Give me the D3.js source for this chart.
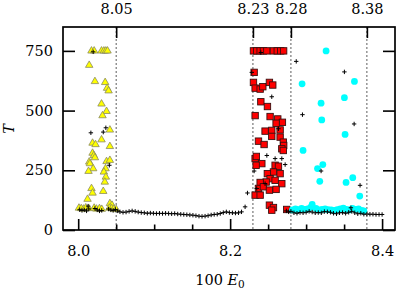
<!DOCTYPE html>
<html>
<head>
<meta charset="utf-8">
<script src="https://cdn.jsdelivr.net/npm/d3@7"></script>
<style>
  body { margin: 0; background: #fff; }
</style>
</head>
<body>
<svg id="svg1" width="399" height="289"></svg>
<script>
// yellow triangles (8.00 - 8.05)
var triE = [8.0175, 8.021, 8.0307, 8.0338, 8.0364, 8.0386, 8.0145, 8.022, 8.0355, 8.038, 8.040,
    8.0307, 8.0373, 8.032, 8.0417, 8.0307, 8.0417, 8.0189, 8.0228, 8.0189, 8.0206, 8.022,
    8.0145, 8.0154, 8.0197, 8.0136, 8.0373, 8.0417, 8.036, 8.0338, 8.0364, 8.035, 8.0175,
    8.0189, 8.033, 8.0123, 8.0417, 8.0445,
    8.001, 8.004, 8.007, 8.010, 8.014, 8.021, 8.024, 8.028, 8.031, 8.041, 8.044, 8.047, 8.050];
var triT = [750, 750, 750, 750, 750, 750, 690, 622, 618, 594, 583,
    528, 497, 479, 419, 378, 350, 364, 358, 322, 312, 303,
    285, 278, 257, 246, 287, 292, 257, 243, 222, 201, 174,
    155, 162, 129, 111, 104,
    92, 90, 88, 93, 90, 92, 88, 90, 87, 92, 90, 88, 86];

// red squares (8.23 - 8.28)
var sqE = [8.2307, 8.235, 8.2395, 8.2438, 8.2483, 8.257, 8.262, 8.2665, 8.2704,
    8.2316, 8.2307, 8.2329, 8.2395, 8.243, 8.2517, 8.2561, 8.2404, 8.2491, 8.2329, 8.2526,
    8.2627, 8.2688, 8.2605, 8.246, 8.2548, 8.2658, 8.2548, 8.2658, 8.2373, 8.2447, 8.270,
    8.2705, 8.268, 8.2700, 8.2329, 8.2345, 8.2417, 8.2342, 8.2592, 8.2636, 8.257, 8.2658,
    8.249, 8.2526, 8.2474, 8.2395, 8.2592, 8.268, 8.2373, 8.2438, 8.2517, 8.2605, 8.2329,
    8.2395, 8.2517, 8.257, 8.2548, 8.2745];
var sqT = [750, 750, 750, 750, 750, 750, 750, 750, 750,
    660, 618, 594, 590, 600, 618, 607, 537, 517, 479, 475,
    465, 451, 447, 414, 417, 419, 392, 389, 372, 358, 368,
    354, 340, 333, 299, 308, 278, 271, 271, 267, 243, 236,
    236, 215, 201, 199, 208, 194, 174, 181, 167, 170, 146,
    146, 104, 94, 83, 86];

// cyan circles (8.28 - 8.38)
var circE = [8.3263, 8.2947, 8.3636, 8.3197, 8.3504, 8.3206, 8.3513, 8.296, 8.322, 8.315,
    8.318, 8.3614, 8.3526, 8.3706, 8.308,
    8.282, 8.286, 8.290, 8.294, 8.298, 8.302, 8.306, 8.313, 8.317, 8.321, 8.325, 8.329,
    8.333, 8.337, 8.341, 8.345, 8.349, 8.353, 8.357, 8.361, 8.365, 8.369, 8.373, 8.376];
var circT = [750, 612, 622, 531, 554, 461, 400, 333, 274, 257,
    204, 219, 199, 142, 107,
    84, 88, 85, 90, 86, 88, 95, 90, 84, 86, 88, 85,
    84, 82, 85, 88, 92, 86, 84, 90, 86, 88, 82, 80];

// black crosses
var crossE = [8.0197, 8.0167, 8.033, 8.0364, 8.041, 8.013,
    8.002, 8.005, 8.008, 8.011, 8.014, 8.022, 8.025, 8.028, 8.031,
    8.040, 8.043, 8.046, 8.049, 8.052,
    8.055, 8.059, 8.063, 8.067, 8.071, 8.075, 8.079, 8.083, 8.087, 8.091, 8.095, 8.099,
    8.103, 8.107, 8.111, 8.115, 8.119, 8.123, 8.127, 8.131, 8.135, 8.139, 8.143, 8.147,
    8.151, 8.155, 8.159, 8.163, 8.167, 8.171, 8.175, 8.179, 8.183, 8.187, 8.191, 8.195,
    8.199, 8.203, 8.207, 8.211, 8.215, 8.2197,
    8.2404, 8.2285, 8.2548, 8.2636, 8.2483, 8.2592, 8.268, 8.2724, 8.2316, 8.2228,
    8.235, 8.246, 8.274, 8.277, 8.280,
    8.287, 8.3504, 8.2952, 8.3632, 8.3197, 8.371, 8.359,
    8.284, 8.288, 8.292, 8.296, 8.300, 8.304, 8.308, 8.312, 8.316, 8.320, 8.324, 8.328,
    8.332, 8.336, 8.340, 8.344, 8.348, 8.352, 8.356, 8.360, 8.364, 8.368, 8.372, 8.376,
    8.380, 8.384, 8.388, 8.392, 8.396, 8.400];
var crossT = [746, 407, 410, 428, 271, 100,
    85, 82, 84, 80, 88, 90, 84, 80, 82,
    88, 84, 82, 86, 80,
    76, 74, 75, 78, 80, 78, 75, 73, 72, 70, 71, 70,
    69, 70, 69, 70, 69, 68, 69, 67, 66, 65, 64, 63,
    62, 60, 58, 57, 58, 60, 63, 65, 66, 69, 73, 76,
    73, 72, 71, 72, 76, 97,
    743, 660, 558, 424, 312, 299, 299, 274, 247, 155,
    174, 194, 80, 76, 78,
    706, 662, 483, 444, 247, 187, 93,
    72, 70, 73, 72, 74, 78, 75, 72, 73, 72, 77, 76,
    74, 70, 68, 72, 73, 70, 74, 78, 72, 68, 70, 66,
    67, 66, 66, 65, 65, 65];

var bottomMajor = [8.0, 8.2, 8.4];
var bottomMinor = [8.05, 8.1, 8.15, 8.25, 8.3, 8.35];
var topTicks = [8.05, 8.23, 8.28, 8.38];
var yTicks = [0, 250, 500, 750];

var svg = d3.select("#svg1"),
    margin = { left: 63, right: 395, top: 27, bottom: 230 },
    serif = "'DejaVu Serif', 'Liberation Serif', serif";

var x = d3.scaleLinear().domain([7.98, 8.417]).range([margin.left, margin.right]);
var y = d3.scaleLinear().domain([0, 850]).range([margin.bottom, margin.top]);

// dashed separators
svg.append("g").selectAll("line")
    .data(topTicks)
    .enter().append("line")
    .attr("x1", function (d) { return x(d); })
    .attr("x2", function (d) { return x(d); })
    .attr("y1", margin.top)
    .attr("y2", margin.bottom)
    .attr("stroke", "#333")
    .attr("stroke-width", 0.8)
    .attr("stroke-dasharray", "2,2");

// yellow triangles
svg.append("g").selectAll("path")
    .data(triE)
    .enter().append("path")
    .attr("transform", function (d, i) { return "translate(" + x(d) + "," + y(triT[i]) + ")"; })
    .attr("d", d3.symbol().type(d3.symbolTriangle).size(24))
    .attr("fill", "#ffff00")
    .attr("stroke", "#8a8a60")
    .attr("stroke-width", 0.8);

// red squares
svg.append("g").selectAll("rect")
    .data(sqE)
    .enter().append("rect")
    .attr("x", function (d) { return x(d) - 3.2; })
    .attr("y", function (d, i) { return y(sqT[i]) - 3.2; })
    .attr("width", 6.4)
    .attr("height", 6.4)
    .attr("fill", "#ff0000")
    .attr("stroke", "#3a1010")
    .attr("stroke-width", 0.9);

// cyan circles
svg.append("g").selectAll("circle")
    .data(circE)
    .enter().append("circle")
    .attr("cx", function (d) { return x(d); })
    .attr("cy", function (d, i) { return y(circT[i]); })
    .attr("r", 3.4)
    .attr("fill", "#00ffff");

// black crosses
svg.append("g").selectAll("path")
    .data(crossE)
    .enter().append("path")
    .attr("transform", function (d, i) { return "translate(" + x(d) + "," + y(crossT[i]) + ")"; })
    .attr("d", "M-2.2,0H2.2M0,-2.2V2.2")
    .attr("stroke", "#000")
    .attr("stroke-width", 1);

// frame
svg.append("rect")
    .attr("x", margin.left).attr("y", margin.top)
    .attr("width", margin.right - margin.left).attr("height", margin.bottom - margin.top)
    .attr("fill", "none")
    .attr("stroke", "#000")
    .attr("stroke-width", 1.7);

function styleAxis(g) {
    g.select(".domain").remove();
    g.selectAll(".tick line").attr("stroke-width", 1.6);
}

svg.append("g")
    .attr("transform", "translate(0," + margin.bottom + ")")
    .call(d3.axisBottom(x).tickValues(bottomMajor).tickSizeInner(-11).tickSizeOuter(0)
        .tickPadding(16).tickFormat(d3.format(".1f")))
    .call(styleAxis);

svg.append("g")
    .attr("transform", "translate(0," + margin.bottom + ")")
    .call(d3.axisBottom(x).tickValues(bottomMinor).tickSizeInner(-5.5).tickSizeOuter(0).tickFormat(""))
    .call(styleAxis);

svg.append("g")
    .attr("transform", "translate(0," + margin.top + ")")
    .call(d3.axisTop(x).tickValues(topTicks).tickSizeInner(-11).tickSizeOuter(0)
        .tickPadding(13.5).tickFormat(d3.format(".2f")))
    .call(styleAxis);

svg.append("g")
    .attr("transform", "translate(" + margin.left + ",0)")
    .call(d3.axisLeft(y).tickValues(yTicks).tickSizeInner(-12).tickSizeOuter(0).tickPadding(10))
    .call(styleAxis);

svg.append("g")
    .attr("transform", "translate(" + margin.right + ",0)")
    .call(d3.axisRight(y).tickValues(yTicks).tickSizeInner(-12).tickSizeOuter(0).tickFormat(""))
    .call(styleAxis);

// axis titles
svg.append("text")
    .attr("x", 9)
    .attr("y", 129)
    .attr("transform", "rotate(-90,9,129)")
    .attr("text-anchor", "middle")
    .attr("dy", "0.35em")
    .style("font-style", "italic")
    .text("T");

var xl = svg.append("text")
    .attr("x", 220)
    .attr("y", 285)
    .attr("text-anchor", "middle");
xl.append("tspan").text("100 ");
xl.append("tspan").style("font-style", "italic").text("E");
xl.append("tspan").attr("dy", "2.5").style("font-size", "10.5px").text("0");

// one serif face for every label
svg.selectAll("text")
    .style("font-family", serif)
    .style("font-size", "14.5px")
    .style("fill", "#000");
</script>
</body>
</html>
